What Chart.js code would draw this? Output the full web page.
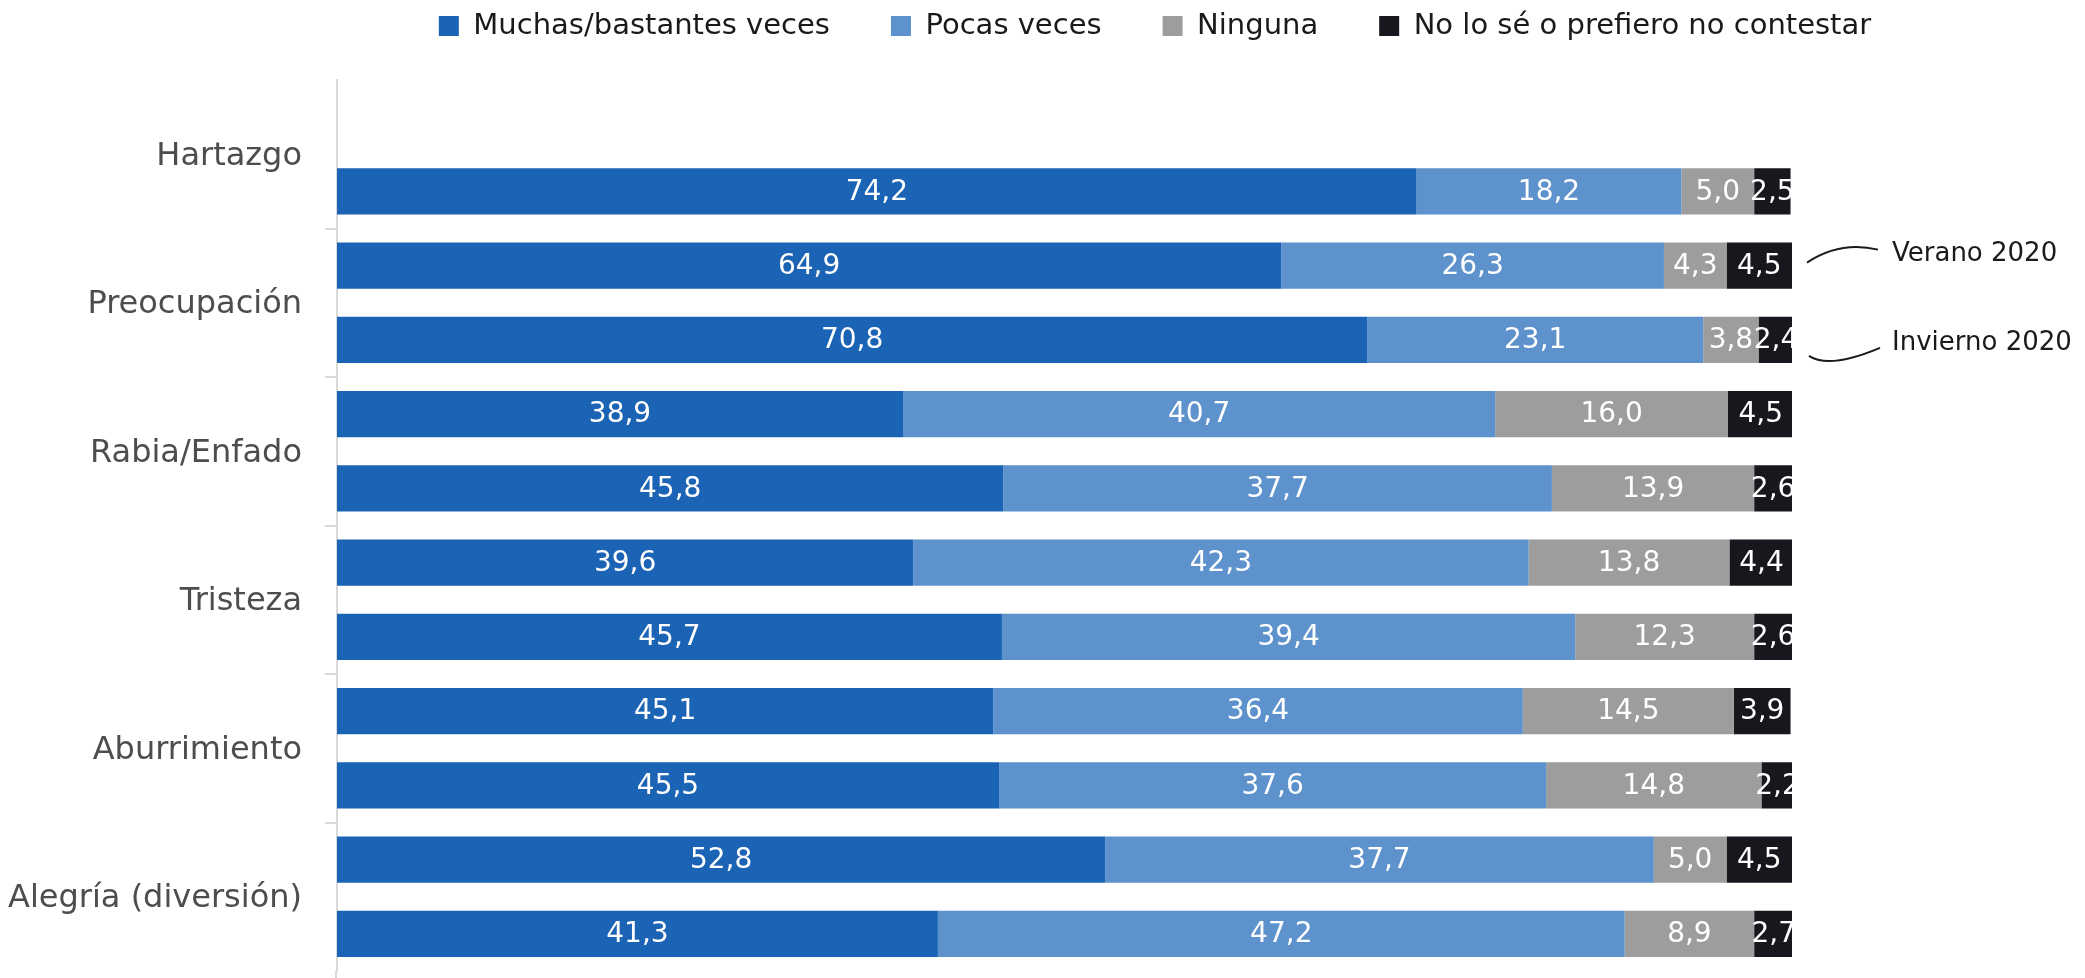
<!DOCTYPE html>
<html>
<head>
<meta charset="utf-8">
<script src="https://cdn.jsdelivr.net/npm/chart.js@4"></script>
<style>
html,body{margin:0;padding:0;background:#fff;}
#c{display:block;}
</style>
</head>
<body>
<canvas id="c" width="2085" height="978"></canvas>
<script>
// ---- data ----
const categories = ['Hartazgo', 'Preocupación', 'Rabia/Enfado', 'Tristeza', 'Aburrimiento', 'Alegría (diversión)'];
const responses = ['Muchas/bastantes veces', 'Pocas veces', 'Ninguna', 'No lo sé o prefiero no contestar'];
const periods = ['Verano 2020', 'Invierno 2020'];

const veranoMuchas   = [null, 64.9, 38.9, 39.6, 45.1, 52.8];
const veranoPocas    = [null, 26.3, 40.7, 42.3, 36.4, 37.7];
const veranoNinguna  = [null, 4.3, 16.0, 13.8, 14.5, 5.0];
const veranoNoSe     = [null, 4.5, 4.5, 4.4, 3.9, 4.5];

const inviernoMuchas  = [74.2, 70.8, 45.8, 45.7, 45.5, 41.3];
const inviernoPocas   = [18.2, 23.1, 37.7, 39.4, 37.6, 47.2];
const inviernoNinguna = [5.0, 3.8, 13.9, 12.3, 14.8, 8.9];
const inviernoNoSe    = [2.5, 2.4, 2.6, 2.6, 2.2, 2.7];

// ---- styles ----
const colors = ['#1b63b5', '#5d92cc', '#9c9d9c', '#17171e'];
const FONT = "'DejaVu Sans', sans-serif";
const LEGEND_FONT = 29;
const LEGEND_PAD = 61;
const LEGEND_CENTER_X = 1155;
const LEGEND_BOX_TOP = 16;

const veranoSets = [veranoMuchas, veranoPocas, veranoNinguna, veranoNoSe];
const inviernoSets = [inviernoMuchas, inviernoPocas, inviernoNinguna, inviernoNoSe];

const datasets = [];
veranoSets.forEach((d, i) => datasets.push({
  label: responses[i], data: d, backgroundColor: colors[i], stack: periods[0],
  borderWidth: 0, barPercentage: 0.62, categoryPercentage: 1.0
}));
inviernoSets.forEach((d, i) => datasets.push({
  label: responses[i], data: d, backgroundColor: colors[i], stack: periods[1],
  borderWidth: 0, barPercentage: 0.62, categoryPercentage: 1.0
}));

const fmt = v => v.toFixed(1).replace('.', ',');

const valueLabels = {
  id: 'valueLabels',
  afterDatasetsDraw(chart) {
    const ctx = chart.ctx, a = chart.chartArea;
    ctx.save();
    ctx.beginPath();
    ctx.rect(a.left, a.top, a.right - a.left, a.bottom - a.top);
    ctx.clip();
    ctx.font = "28px " + FONT;
    ctx.fillStyle = '#ffffff';
    ctx.textAlign = 'center';
    ctx.textBaseline = 'middle';
    chart.data.datasets.forEach((ds, di) => {
      const meta = chart.getDatasetMeta(di);
      meta.data.forEach((el, i) => {
        const v = ds.data[i];
        if (v === null || v === undefined) return;
        const p = el.getProps(['x', 'y', 'base'], true);
        ctx.fillText(fmt(v), (p.x + p.base) / 2, p.y + 1);
      });
    });
    ctx.restore();
  }
};

const annotations = {
  id: 'periodNotes',
  afterDatasetsDraw(chart) {
    const ctx = chart.ctx, a = chart.chartArea;
    const idx = 1; // Preocupación
    const yV = chart.getDatasetMeta(0).data[idx].y;
    const yI = chart.getDatasetMeta(4).data[idx].y;
    const r = a.right;
    ctx.save();
    ctx.strokeStyle = '#1a1a1a';
    ctx.lineWidth = 2;
    ctx.beginPath();
    ctx.moveTo(r + 15, yV - 3);
    ctx.quadraticCurveTo(r + 48, yV - 25, r + 86, yV - 16);
    ctx.stroke();
    ctx.beginPath();
    ctx.moveTo(r + 17, yI + 16);
    ctx.quadraticCurveTo(r + 37, yI + 29.5, r + 88, yI + 8);
    ctx.stroke();
    ctx.font = "26px " + FONT;
    ctx.fillStyle = '#1a1a1a';
    ctx.textAlign = 'left';
    ctx.textBaseline = 'alphabetic';
    ctx.fillText(periods[0], r + 100, yV - 5);
    ctx.fillText(periods[1], r + 100, yI + 10);
    // extend the category axis line to the bottom edge
    ctx.strokeStyle = '#d9d9d9';
    ctx.beginPath();
    ctx.moveTo(a.left - 1, a.bottom);
    ctx.lineTo(a.left - 1, chart.height);
    ctx.stroke();
    ctx.restore();
  }
};

const legendPlace = {
  id: 'legendPlace',
  afterLayout(chart) {
    const lg = chart.legend;
    if (!lg) return;
    const bh = 20;
    const itemH = Math.max(LEGEND_FONT, bh);
    const shift = LEGEND_CENTER_X - (lg.left + lg.right) / 2;
    lg.top = LEGEND_BOX_TOP - LEGEND_PAD - (itemH - bh) / 2;
    lg.left += shift;
    lg.right += shift;
  }
};

new Chart(document.getElementById('c'), {
  type: 'bar',
  data: { labels: categories, datasets },
  options: {
    indexAxis: 'y',
    responsive: false,
    animation: false,
    layout: { padding: { left: 0, right: 293, top: 0, bottom: 7 } },
    scales: {
      x: { stacked: true, min: 0, max: 100, display: false },
      y: {
        stacked: true,
        afterFit(scale) {
          scale.width = 337;
          scale.paddingTop = 0;
          scale.paddingBottom = 0;
        },
        border: { display: true, color: '#d9d9d9', width: 2 },
        grid: {
          offset: true,
          drawOnChartArea: false,
          drawTicks: true,
          tickLength: 12,
          lineWidth: 2,
          color: ctx => (ctx.type !== 'tick' || ctx.index === 0) ? 'rgba(0,0,0,0)' : '#d9d9d9'
        },
        ticks: {
          padding: 23,
          labelOffset: 2,
          color: '#4d4d4d',
          font: { family: FONT, size: 32 }
        }
      }
    },
    plugins: {
      tooltip: { enabled: false },
      legend: {
        position: 'top',
        align: 'center',
        maxHeight: 80,
        labels: {
          boxWidth: 20,
          boxHeight: 20,
          padding: LEGEND_PAD,
          color: '#1a1a1a',
          font: { family: FONT, size: LEGEND_FONT },
          filter: item => item.datasetIndex < 4
        }
      }
    }
  },
  plugins: [valueLabels, annotations, legendPlace]
});
</script>
</body>
</html>
